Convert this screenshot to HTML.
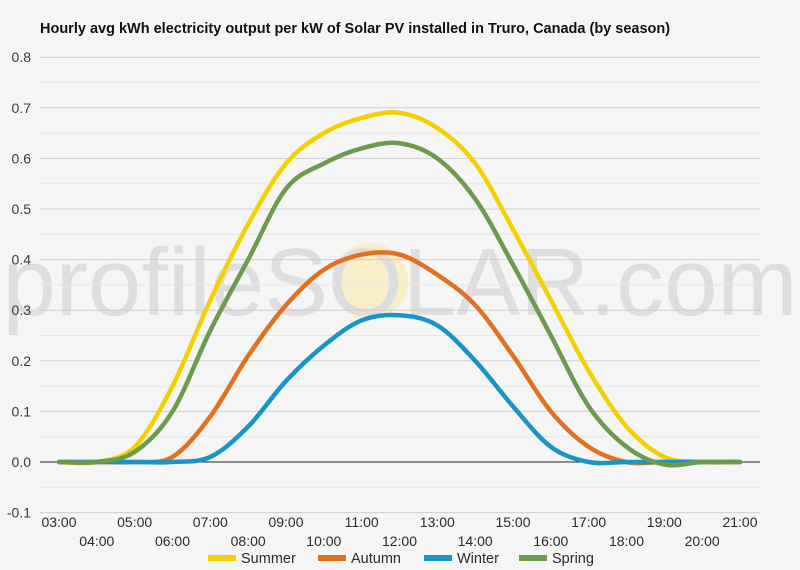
<!DOCTYPE html>
<html><head><meta charset="utf-8"><style>
html,body{margin:0;padding:0;background:#f5f5f5;}
svg{display:block;font-family:"Liberation Sans",sans-serif;}
</style></head><body>
<svg id="chart" width="800" height="570" viewBox="0 0 800 570">
<rect x="0" y="0" width="800" height="570" fill="#f5f5f5"/>
<text x="40" y="33" font-size="14.5" font-weight="bold" fill="#111">Hourly avg kWh electricity output per kW of Solar PV installed in Truro, Canada (by season)</text>
<g>
<circle cx="370" cy="281" r="38" fill="#fbeaa8" opacity="0.6"/>
<text x="400" y="315" text-anchor="middle" font-size="96" fill="#dedede">profileSOLAR.com</text>
</g>
<g id="grid"></g>
<g id="series"></g>
<g id="xaxis"></g>
<g id="legend"></g>
</svg>
<script>
const hours=["03:00","04:00","05:00","06:00","07:00","08:00","09:00","10:00","11:00","12:00","13:00","14:00","15:00","16:00","17:00","18:00","19:00","20:00","21:00"];
const yTicks=[0.8,0.7,0.6,0.5,0.4,0.3,0.2,0.1,0.0,-0.1];
const seriesNames=["Summer","Autumn","Winter","Spring"];
const seriesColors=["#f5d000","#e2701f","#1b93c4","#6c9a4e"];
const summer=[0,0,0.03,0.15,0.32,0.47,0.59,0.65,0.68,0.69,0.66,0.59,0.46,0.32,0.18,0.07,0.01,0,0];
const autumn=[0,0,0,0.01,0.09,0.21,0.31,0.38,0.41,0.41,0.37,0.31,0.21,0.10,0.03,0,0,0,0];
const winter=[0,0,0,0,0.01,0.07,0.16,0.23,0.28,0.29,0.27,0.20,0.11,0.03,0,0,0,0,0];
const spring=[0,0,0.02,0.10,0.26,0.40,0.54,0.59,0.62,0.63,0.60,0.52,0.39,0.25,0.11,0.03,-0.005,0,0];
const allSeries=[summer,autumn,winter,spring];

const NS="http://www.w3.org/2000/svg";
const X0=59,X1=740,Y0=462,PER=506;
function xs(i){return X0+i*(X1-X0)/(hours.length-1);}
function ys(v){return Y0-v*PER;}
function mk(tag,attrs,parent){const e=document.createElementNS(NS,tag);for(const k in attrs)e.setAttribute(k,attrs[k]);parent.appendChild(e);return e;}

const grid=document.getElementById('grid');
for(let k=0;k<yTicks.length;k++){
  const v=yTicks[k];
  const l=mk('line',{x1:40,x2:760,y1:ys(v),y2:ys(v),stroke:Math.abs(v)<1e-9?'#222':'#cfcfcf','stroke-width':1},grid);
  
  
  if(k<yTicks.length-1){
    const m=mk('line',{x1:40,x2:760,y1:ys(v-0.05),y2:ys(v-0.05),stroke:'#e6e6e6','stroke-width':1},grid);
    
    
  }
  const t=mk('text',{x:31,y:ys(v)+5,'text-anchor':'end','font-size':14,fill:'#3a3a3a'},grid);
  t.textContent=v.toFixed(1);
  
  
}

const sg=document.getElementById('series');
function pathFor(arr){
  const p=arr.map((v,i)=>[xs(i),ys(v)]);
  let d=`M${p[0][0]},${p[0][1]}`;
  for(let i=0;i<p.length-1;i++){
    const a=p[Math.max(0,i-1)],b=p[i],c=p[i+1],e=p[Math.min(p.length-1,i+2)];
    const c1=[b[0]+(c[0]-a[0])/6,b[1]+(c[1]-a[1])/6];
    const c2=[c[0]-(e[0]-b[0])/6,c[1]-(e[1]-b[1])/6];
    d+=` C${c1[0]},${c1[1]} ${c2[0]},${c2[1]} ${c[0]},${c[1]}`;
  }
  return d;
}
allSeries.forEach((arr,s)=>{
  const p=mk('path',{d:pathFor(arr),fill:'none',stroke:seriesColors[s],'stroke-width':4.5,'stroke-linejoin':'round','stroke-linecap':'round'},sg);
  
  
});

const xa=document.getElementById('xaxis');
hours.forEach((h,i)=>{
  const t=mk('text',{x:xs(i),y:i%2===0?527:546,'text-anchor':'middle','font-size':14,fill:'#2a2a2a'},xa);
  t.textContent=h;
  
  
});

const lg=document.getElementById('legend');
const lx=[208,318,424,519];
seriesNames.forEach((n,s)=>{
  const r=mk('rect',{x:lx[s],y:555,width:28,height:6,fill:seriesColors[s]},lg);
  
  
  const t=mk('text',{x:lx[s]+33,y:563,'font-size':14.5,fill:'#2a2a2a'},lg);
  t.textContent=n;
  
  
});
</script>
</body></html>
